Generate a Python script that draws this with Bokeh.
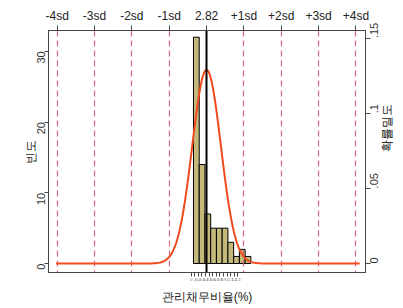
import math
import numpy as np
from bokeh.plotting import figure
from bokeh.models import Range1d, LinearAxis, FixedTicker
from bokeh.embed import file_html
from bokeh.resources import INLINE

# ---- data ----
mean_val = 2.82
sd_line = 8.05          # spacing of the sd reference lines (x units)
curve_sd = 3.097        # sd of the overlaid normal density
bin_width = 1.237
bin_left = [0.0, 1.237, 2.474, 3.711, 4.948, 6.185, 7.422, 8.659, 9.896, 11.133]
freq = [32, 14, 7, 5, 5, 5, 3, 1, 2, 1]

sd_steps = [-4, -3, -2, -1, 0, 1, 2, 3, 4]
sd_labels = ["-4sd", "-3sd", "-2sd", "-1sd", "2.82", "+1sd", "+2sd", "+3sd", "+4sd"]
sd_lines = [-4, -3, -2, -1, 1, 2, 3, 4]

freq_ticks = [0, 10, 20, 30]
dens_ticks = [0, 0.05, 0.1, 0.15]
dens_labels = ["0", ".05", ".1", ".15"]

x_ticks = [-0.5, 0.28, 1.05, 1.83, 2.6, 3.38, 4.15, 4.93, 5.7, 6.48, 7.25, 8.03, 8.8, 9.58]
x_tick_labels = ["0", ".2", "0.2", "0.3", "0.4", "0.5", "0.6", "0.7", "0.8", "0.9", "1", "1.1", "1.2", "1.3"]

curve_sd_min, curve_sd_max = -4.03, 4.1   # extent of curve in sd-line units

x_lo, x_hi = -31.25, 37.08
y_lo, y_hi = -1.27, 32.95
d_lo, d_hi = -0.00597, 0.15504

NUM_FONT = "Liberation Sans"
KR_FONT = "Liberation Sans"
FRAME = "#444444"

p = figure(width=403, height=308, output_backend="svg", toolbar_location=None,
           x_range=Range1d(x_lo, x_hi), y_range=Range1d(y_lo, y_hi),
           min_border_left=48, min_border_right=35, min_border_top=30, min_border_bottom=36)
p.extra_y_ranges = {"dens": Range1d(d_lo, d_hi)}
p.extra_x_ranges = {"sd": Range1d((x_lo - mean_val) / sd_line, (x_hi - mean_val) / sd_line)}
p.xgrid.visible = False
p.ygrid.visible = False
p.outline_line_color = FRAME
p.outline_line_width = 1
p.background_fill_color = "white"
p.border_fill_color = "white"


def style_axis(ax, tick_out):
    ax.major_tick_out = tick_out
    ax.major_tick_in = 0
    ax.minor_tick_out = 0
    ax.minor_tick_in = 0
    ax.axis_line_color = FRAME
    ax.major_tick_line_color = FRAME
    ax.major_label_text_font = NUM_FONT
    ax.major_label_text_line_height = 1.0
    ax.axis_label_text_line_height = 1.0


# bottom axis
xa = p.xaxis[0]
style_axis(xa, 4)
xa.ticker = FixedTicker(ticks=x_ticks)
xa.major_label_overrides = {t: l for t, l in zip(x_ticks, x_tick_labels)}
xa.major_label_text_font_size = "3.5px"
xa.major_label_text_color = "#666666"
xa.major_label_standoff = 1
xa.axis_label = "관리채무비율(%)"
xa.axis_label_text_font = KR_FONT
xa.axis_label_text_font_style = "normal"
xa.axis_label_text_font_size = "12px"
xa.axis_label_text_color = "#222222"
xa.axis_label_standoff = 6

# left axis
ya = p.yaxis[0]
style_axis(ya, 4)
ya.ticker = FixedTicker(ticks=freq_ticks)
ya.major_label_orientation = math.pi / 2
ya.major_label_text_font_size = "11px"
ya.major_label_text_color = "#333333"
ya.major_label_standoff = 3
ya.axis_label = "빈도"
ya.axis_label_text_font = KR_FONT
ya.axis_label_text_font_style = "normal"
ya.axis_label_text_font_size = "12px"
ya.axis_label_text_color = "#222222"
ya.axis_label_standoff = -7

# right axis (density)
ra = LinearAxis(y_range_name="dens", ticker=FixedTicker(ticks=dens_ticks))
style_axis(ra, 5)
ra.major_label_overrides = {t: l for t, l in zip(dens_ticks, dens_labels)}
ra.major_label_orientation = math.pi / 2
ra.major_label_text_font_size = "11px"
ra.major_label_text_color = "#333333"
ra.major_label_standoff = 4
ra.axis_label = "확률밀도"
ra.axis_label_text_font = KR_FONT
ra.axis_label_text_font_style = "normal"
ra.axis_label_text_font_size = "12px"
ra.axis_label_text_color = "#222222"
ra.axis_label_standoff = 1
if "axis_label_orientation" in ra.properties():
    ra.axis_label_orientation = math.pi / 2
p.add_layout(ra, "right")

# top axis (sd units)
ta = LinearAxis(x_range_name="sd", ticker=FixedTicker(ticks=sd_steps))
style_axis(ta, 5)
ta.major_label_overrides = {t: l for t, l in zip(sd_steps, sd_labels)}
ta.major_label_text_font_size = "12px"
ta.major_label_text_color = "#222222"
ta.major_label_standoff = 3
p.add_layout(ta, "above")

# histogram bars
bin_right = [b + bin_width for b in bin_left]
p.quad(left=bin_left, right=bin_right, bottom=0, top=freq,
       fill_color="#c4b97a", line_color="black", line_width=1)

# sd reference lines
p.vspan(x=sd_lines, x_range_name="sd", line_color="#d9506e", line_width=1.2,
        line_dash="6 4", line_alpha=0.85)

# normal density curve
zs = np.linspace(curve_sd_min, curve_sd_max, 400)
cx = mean_val + zs * sd_line
cy = np.exp(-0.5 * ((cx - mean_val) / curve_sd) ** 2) / (curve_sd * math.sqrt(2 * math.pi))
p.line(cx, cy, y_range_name="dens", line_color="#f24a1f", line_width=2)

# mean line
p.vspan(x=[mean_val], line_color="black", line_width=2)

open("out.html", "w").write(file_html(p, INLINE))
